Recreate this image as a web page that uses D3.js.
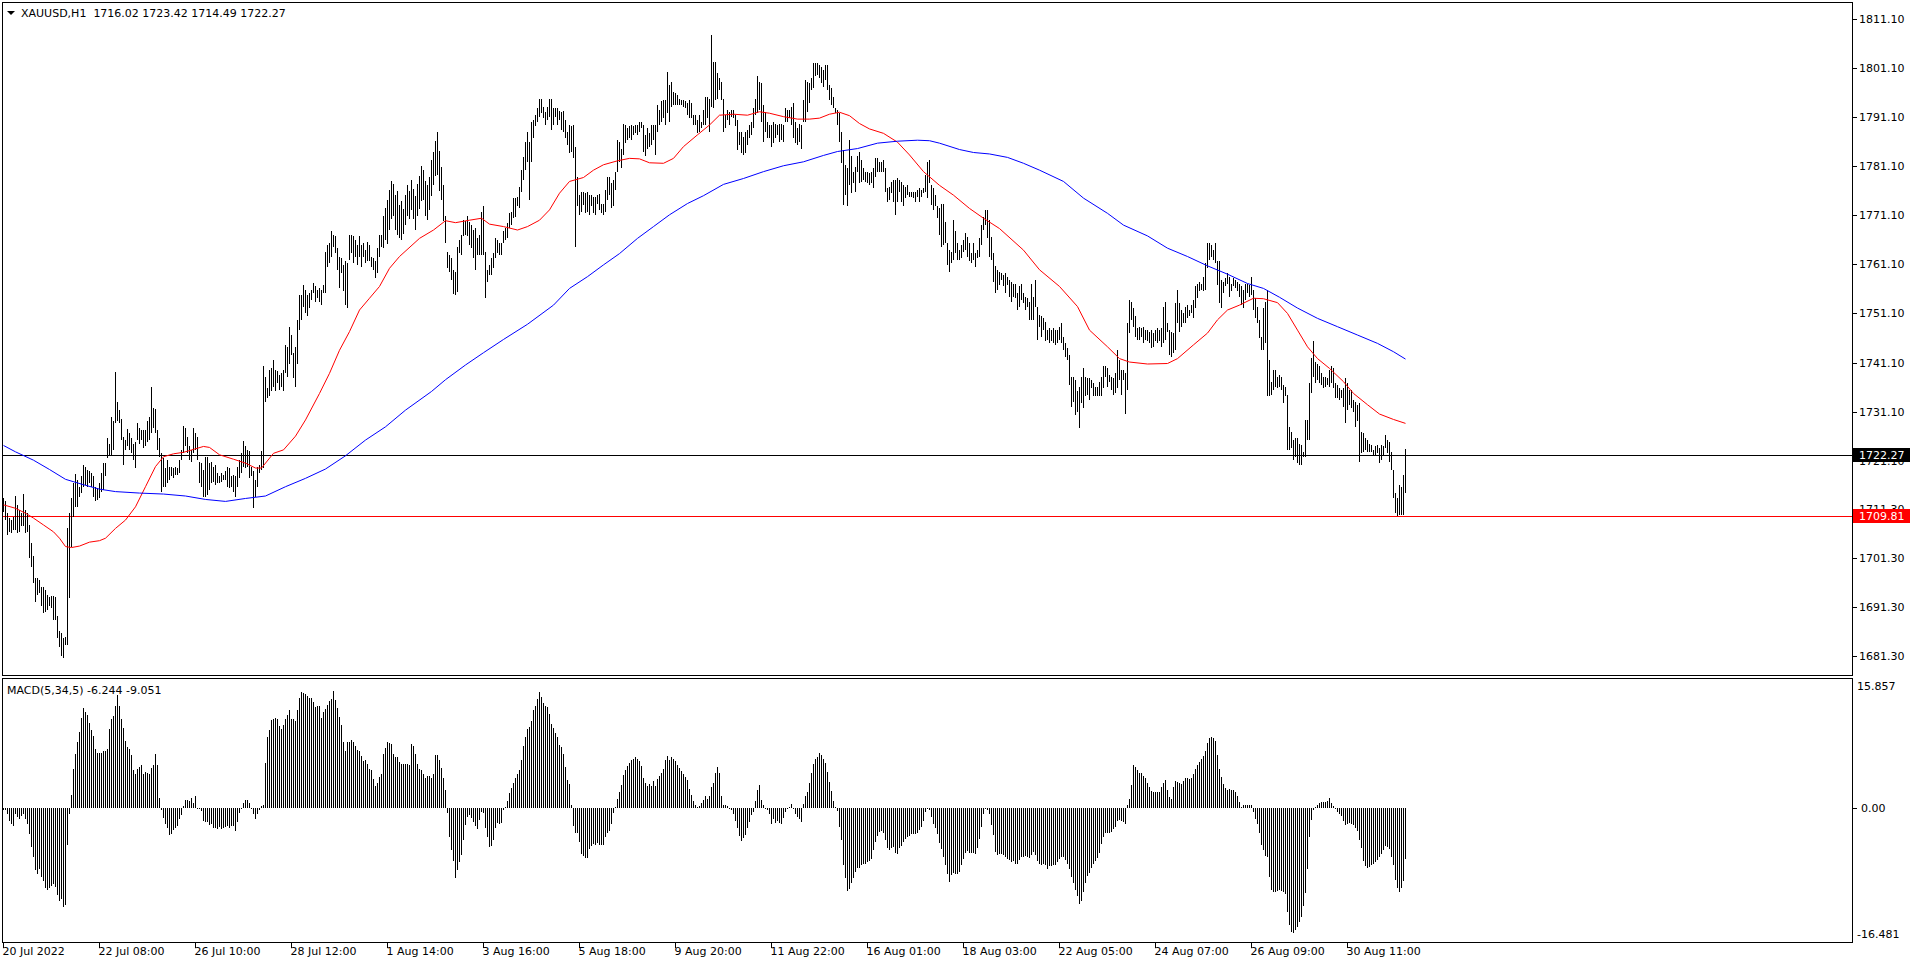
<!DOCTYPE html>
<html>
<head>
<meta charset="utf-8">
<script src="https://cdn.jsdelivr.net/npm/d3@7"></script>
<style>
html, body { margin: 0; padding: 0; background: #fff; }
svg { display: block; }
text { font-family: "DejaVu Sans", sans-serif; font-size: 11px; fill: #000; white-space: pre; }
</style>
</head>
<body>
<script>
// XAUUSD H1, 20 Jul 2022 -> 31 Aug 2022, one entry per hourly bar (702 bars)
const barHigh = [
1713.4,1712.8,1710.4,1709.4,1709.0,1709.7,1713.9,1712.1,1711.1,1710.4,
1714.3,1711.1,1710.4,1708.0,1704.3,1701.6,1697.1,1697.1,1696.8,1695.4,
1695.4,1694.8,1693.7,1693.4,1693.5,1693.5,1693.4,1689.5,1686.3,1685.9,
1684.9,1685.2,1707.3,1710.4,1713.4,1716.5,1718.4,1717.2,1715.8,1717.9,
1720.2,1719.9,1719.2,1718.9,1718.5,1717.9,1715.8,1715.5,1716.5,1718.5,
1720.6,1720.6,1725.7,1724.6,1730.1,1729.1,1739.1,1733.1,1731.4,1729.5,
1726.0,1725.3,1727.5,1726.7,1725.7,1724.6,1725.0,1728.7,1727.7,1727.4,
1727.4,1727.4,1729.1,1730.1,1736.2,1731.8,1731.6,1727.4,1725.7,1722.6,
1721.6,1719.6,1721.2,1719.9,1719.9,1719.6,1719.9,1719.6,1721.2,1723.3,
1728.2,1727.7,1726.0,1724.0,1723.3,1727.7,1726.7,1726.0,1720.9,1720.6,
1719.2,1721.9,1721.8,1720.6,1720.9,1719.9,1720.2,1718.5,1717.9,1718.5,
1718.2,1718.9,1719.9,1719.6,1717.9,1718.2,1717.9,1719.9,1721.2,1722.6,
1725.2,1724.0,1723.3,1723.0,1719.9,1718.9,1717.2,1719.9,1720.2,1723.0,
1740.3,1738.2,1735.9,1739.6,1739.9,1741.6,1739.6,1739.3,1738.6,1738.9,
1739.6,1744.7,1744.3,1748.4,1746.7,1743.0,1744.3,1749.8,1754.9,1754.9,
1756.9,1755.9,1754.9,1755.2,1755.9,1757.3,1756.6,1755.9,1756.2,1755.9,
1756.9,1763.7,1765.1,1765.4,1767.8,1767.1,1766.8,1764.4,1762.7,1762.3,
1761.0,1761.7,1761.3,1767.1,1767.1,1766.8,1766.1,1765.1,1766.8,1765.1,
1765.4,1764.0,1765.7,1765.1,1762.7,1762.3,1761.7,1764.4,1767.1,1767.1,
1771.0,1772.5,1774.2,1776.3,1778.1,1777.4,1775.2,1776.0,1773.3,1774.1,
1772.4,1775.2,1777.3,1776.1,1778.2,1776.5,1775.0,1777.4,1779.1,1781.2,
1780.3,1778.0,1777.2,1779.0,1782.3,1784.1,1786.2,1788.0,1784.3,1781.0,
1777.2,1771.0,1763.7,1763.0,1762.5,1760.0,1759.5,1764.7,1766.0,1767.0,
1770.2,1770.0,1771.0,1769.8,1769.1,1768.1,1768.5,1766.4,1767.1,1771.8,
1772.9,1763.7,1760.0,1761.0,1762.3,1763.4,1766.4,1766.1,1765.4,1765.4,
1767.8,1768.5,1769.5,1771.5,1771.8,1774.6,1774.6,1774.9,1776.9,1780.3,
1783.0,1786.1,1788.1,1786.0,1790.2,1790.5,1791.5,1792.9,1794.8,1794.8,
1793.2,1792.2,1793.2,1794.8,1794.8,1793.0,1792.9,1792.9,1792.4,1792.2,
1792.4,1790.5,1788.1,1789.5,1789.2,1789.5,1785.0,1779.0,1775.2,1775.9,
1775.9,1775.6,1775.9,1775.2,1775.2,1774.9,1774.9,1775.2,1775.4,1773.5,
1773.5,1776.3,1779.0,1779.0,1777.6,1778.3,1780.0,1786.4,1786.1,1784.7,
1789.8,1789.5,1788.8,1789.2,1789.5,1789.2,1789.5,1789.6,1790.2,1790.2,
1789.5,1787.5,1788.8,1787.8,1789.5,1789.5,1789.5,1793.6,1792.6,1794.3,
1794.6,1794.6,1800.4,1797.7,1798.3,1796.3,1796.0,1795.6,1794.9,1794.6,
1794.6,1794.3,1793.9,1794.6,1793.9,1791.5,1791.5,1790.5,1791.5,1790.2,
1792.6,1795.3,1795.3,1794.9,1807.8,1802.4,1802.4,1800.0,1799.0,1798.3,
1794.9,1791.5,1792.6,1792.2,1792.6,1792.6,1791.5,1790.5,1788.1,1788.1,
1787.1,1788.1,1788.5,1789.5,1790.2,1792.9,1794.9,1799.4,1798.3,1798.0,
1793.6,1792.2,1790.2,1789.5,1789.5,1790.2,1789.8,1789.5,1789.8,1789.8,
1789.5,1792.9,1792.6,1792.6,1793.2,1793.9,1790.2,1788.8,1789.8,1789.5,
1794.6,1798.7,1798.3,1798.0,1799.0,1802.1,1802.1,1802.1,1801.7,1801.4,
1800.7,1801.7,1801.7,1797.7,1797.0,1795.3,1792.9,1792.6,1791.9,1788.1,
1784.4,1781.4,1780.7,1786.4,1783.1,1780.0,1781.0,1783.1,1784.1,1782.4,
1780.7,1780.0,1780.0,1779.7,1780.0,1780.7,1782.7,1782.7,1782.0,1782.0,
1782.4,1780.7,1776.6,1776.9,1777.9,1778.3,1778.3,1778.6,1778.3,1777.9,
1777.3,1776.9,1777.3,1775.9,1775.9,1775.9,1775.9,1776.3,1776.6,1776.3,
1776.6,1779.3,1782.0,1782.4,1777.3,1776.6,1775.2,1772.9,1772.5,1773.5,
1773.5,1769.8,1765.4,1764.0,1763.7,1770.2,1767.8,1765.4,1764.0,1765.1,
1766.1,1767.4,1766.7,1765.4,1763.4,1765.4,1763.4,1764.0,1766.4,1769.1,
1770.8,1772.2,1772.2,1770.2,1766.7,1763.4,1760.7,1760.0,1759.6,1759.3,
1758.9,1759.3,1758.6,1757.9,1757.6,1757.2,1757.2,1755.2,1756.6,1757.2,
1755.2,1754.5,1754.2,1753.5,1757.2,1754.5,1757.9,1752.5,1750.8,1750.5,
1750.1,1749.4,1747.7,1748.1,1747.7,1748.1,1747.7,1747.7,1748.4,1749.1,
1746.4,1745.0,1744.0,1742.6,1738.2,1738.2,1737.6,1735.2,1736.2,1738.2,
1739.9,1738.2,1737.9,1737.9,1737.6,1736.9,1736.2,1736.2,1737.2,1738.2,
1740.3,1740.3,1739.9,1738.6,1738.2,1737.9,1738.9,1743.7,1741.6,1739.6,
1739.6,1738.9,1749.1,1753.8,1753.5,1752.2,1750.5,1748.1,1748.4,1748.1,
1748.4,1747.7,1747.7,1747.4,1747.7,1747.1,1747.7,1748.1,1747.7,1748.1,
1752.5,1753.5,1749.1,1747.7,1747.4,1747.1,1753.2,1755.9,1753.2,1751.8,
1751.1,1752.5,1752.8,1751.8,1752.8,1753.8,1756.6,1757.2,1757.6,1757.2,
1758.6,1761.3,1765.4,1765.4,1765.1,1764.0,1765.4,1761.7,1761.7,1757.9,
1757.6,1758.3,1759.3,1758.6,1757.2,1758.3,1757.9,1757.6,1757.2,1756.6,
1755.9,1757.2,1757.2,1756.9,1758.6,1755.9,1754.2,1752.5,1749.8,1746.4,
1752.2,1753.5,1755.9,1741.6,1737.2,1739.6,1739.6,1738.2,1738.6,1738.2,
1736.5,1736.2,1734.5,1728.0,1727.0,1725.3,1725.7,1725.7,1724.6,1724.3,
1722.9,1729.4,1729.4,1736.9,1742.0,1745.4,1741.3,1740.9,1740.3,1738.9,
1738.2,1738.2,1737.9,1739.6,1740.3,1739.9,1736.9,1736.5,1735.9,1735.5,
1735.9,1737.9,1736.9,1735.5,1735.5,1733.5,1733.1,1732.5,1732.8,1727.0,
1726.7,1725.7,1725.3,1724.6,1724.3,1723.3,1724.0,1724.3,1723.6,1724.3,
1724.0,1726.3,1725.3,1725.0,1722.9,1719.2,1714.5,1713.4,1716.1,1715.8,
1718.2,1723.42
]
const barLow = [
1710.7,1709.0,1706.0,1706.6,1706.3,1707.0,1707.0,1706.3,1706.6,1707.7,
1707.7,1706.3,1706.6,1701.2,1699.5,1696.1,1692.4,1693.7,1694.1,1691.4,
1690.0,1690.3,1690.7,1691.4,1691.0,1688.6,1688.6,1684.9,1683.2,1681.2,
1680.8,1683.6,1683.6,1693.1,1703.6,1709.7,1711.7,1711.7,1713.8,1714.5,
1715.8,1716.2,1715.8,1716.5,1715.8,1713.8,1712.8,1713.1,1713.4,1714.8,
1715.1,1717.9,1721.6,1722.3,1722.3,1723.3,1728.7,1729.1,1728.7,1725.3,
1720.2,1723.3,1724.0,1723.3,1722.6,1721.2,1719.6,1725.3,1724.6,1725.3,
1723.6,1724.0,1725.0,1725.3,1726.7,1727.7,1726.7,1723.3,1721.9,1714.8,
1715.8,1715.8,1716.5,1717.2,1717.9,1717.5,1718.2,1718.2,1718.5,1721.2,
1722.6,1724.0,1722.6,1721.2,1720.9,1722.6,1723.3,1721.2,1716.5,1715.8,
1713.8,1713.8,1714.1,1715.1,1716.5,1716.8,1716.2,1716.5,1716.5,1716.8,
1717.2,1717.2,1715.8,1715.5,1715.8,1714.8,1713.8,1715.8,1717.5,1718.5,
1719.9,1719.6,1719.9,1717.5,1717.9,1711.4,1713.8,1715.8,1718.5,1719.2,
1719.6,1733.1,1733.8,1734.2,1735.2,1736.2,1735.2,1736.9,1735.5,1736.2,
1735.2,1738.9,1738.2,1740.9,1742.6,1737.9,1736.2,1740.9,1747.7,1749.8,
1752.5,1751.1,1750.5,1752.2,1753.9,1755.2,1753.5,1754.2,1753.5,1752.8,
1755.2,1755.2,1760.6,1761.3,1762.7,1764.7,1763.4,1760.0,1756.2,1759.3,
1755.6,1752.8,1752.2,1762.0,1763.4,1761.3,1762.7,1761.0,1762.7,1760.6,
1762.7,1761.3,1761.7,1761.7,1760.6,1760.0,1758.3,1759.3,1762.7,1764.7,
1764.4,1766.0,1765.2,1768.1,1770.3,1771.0,1768.2,1767.1,1766.4,1766.0,
1767.2,1769.1,1771.0,1770.3,1772.1,1770.4,1768.2,1771.0,1772.3,1774.1,
1774.2,1771.0,1770.1,1772.2,1775.0,1777.3,1779.1,1779.4,1776.0,1774.2,
1770.0,1765.4,1760.3,1759.5,1758.0,1755.0,1754.9,1755.5,1763.4,1763.0,
1766.8,1767.0,1766.8,1765.0,1764.4,1762.3,1759.9,1763.0,1763.0,1763.0,
1763.0,1754.2,1757.6,1759.0,1759.0,1760.3,1762.3,1763.4,1763.0,1763.0,
1765.4,1766.1,1766.4,1768.5,1769.1,1770.5,1770.8,1772.9,1772.5,1775.9,
1778.3,1780.3,1782.0,1774.2,1782.0,1786.8,1789.2,1790.2,1791.2,1791.9,
1790.9,1789.5,1790.5,1791.2,1788.5,1789.5,1791.2,1789.5,1790.5,1788.5,
1788.1,1786.8,1785.4,1783.7,1784.1,1782.7,1764.7,1772.9,1771.2,1771.8,
1773.2,1771.5,1771.8,1771.2,1772.9,1771.5,1771.2,1773.5,1772.2,1771.5,
1771.2,1771.8,1774.2,1775.2,1772.5,1772.9,1776.3,1780.0,1782.0,1780.7,
1783.4,1785.8,1786.4,1786.8,1786.4,1787.5,1787.8,1787.5,1788.1,1788.8,
1784.1,1783.1,1784.7,1785.1,1785.4,1786.4,1783.4,1788.1,1789.5,1790.2,
1790.9,1789.5,1791.9,1790.2,1793.2,1793.6,1793.6,1793.6,1793.6,1793.6,
1793.2,1792.9,1791.5,1790.9,1790.9,1789.5,1789.5,1787.8,1788.1,1788.8,
1789.5,1789.5,1790.9,1788.1,1793.2,1792.9,1794.6,1794.9,1796.6,1794.6,
1788.1,1788.8,1790.5,1789.5,1791.2,1790.9,1789.2,1784.4,1785.4,1783.7,
1783.4,1783.7,1785.4,1786.8,1787.5,1788.8,1791.5,1791.9,1792.6,1790.2,
1786.1,1788.1,1786.8,1786.8,1785.1,1785.8,1786.8,1787.5,1786.1,1786.4,
1786.1,1790.2,1790.2,1790.9,1789.5,1786.8,1785.8,1785.4,1786.1,1784.7,
1790.2,1790.2,1792.2,1793.9,1796.6,1797.0,1799.4,1799.7,1799.0,1798.0,
1797.3,1798.7,1796.6,1794.6,1793.6,1792.9,1791.9,1789.5,1786.1,1781.7,
1773.2,1775.2,1772.9,1777.3,1775.6,1777.6,1775.9,1780.0,1777.6,1777.9,
1778.3,1777.9,1777.6,1777.3,1777.6,1776.6,1779.0,1780.0,1780.0,1780.0,
1780.0,1775.9,1773.9,1774.2,1775.6,1773.9,1771.2,1773.9,1775.9,1773.9,
1772.9,1774.6,1775.2,1774.9,1774.9,1774.6,1773.9,1774.9,1773.9,1774.9,
1775.6,1775.9,1774.6,1777.6,1773.2,1772.2,1772.9,1770.5,1767.1,1764.7,
1765.1,1765.4,1761.0,1759.6,1761.3,1762.0,1763.4,1762.0,1762.0,1762.3,
1763.7,1764.0,1762.7,1761.7,1761.3,1762.0,1760.6,1762.3,1762.7,1765.1,
1768.1,1769.1,1766.4,1762.7,1762.0,1757.6,1755.2,1755.9,1756.9,1757.9,
1756.6,1755.2,1756.9,1754.5,1753.5,1754.5,1754.2,1751.8,1752.5,1753.9,
1753.2,1751.8,1752.5,1749.8,1749.8,1749.8,1752.5,1745.7,1748.4,1746.4,
1747.7,1745.4,1745.7,1745.0,1745.4,1745.0,1744.7,1745.0,1745.7,1745.0,
1743.7,1742.3,1741.6,1736.5,1732.1,1733.1,1730.4,1731.1,1727.7,1732.8,
1731.8,1734.2,1734.5,1733.5,1735.9,1734.2,1734.2,1734.2,1734.2,1734.2,
1735.9,1738.2,1736.2,1737.2,1735.5,1734.5,1734.8,1735.9,1737.6,1734.5,
1737.6,1730.7,1735.5,1747.1,1749.8,1748.4,1746.4,1745.7,1745.7,1746.4,
1745.0,1745.7,1745.4,1745.0,1744.0,1744.3,1745.4,1745.0,1745.4,1744.3,
1745.0,1745.7,1747.4,1742.6,1742.3,1743.0,1743.7,1749.1,1747.4,1748.4,
1749.1,1749.1,1750.1,1750.5,1751.1,1750.1,1752.2,1754.2,1755.6,1755.9,
1755.6,1755.9,1760.3,1762.0,1762.7,1762.0,1761.3,1756.9,1753.2,1752.2,
1755.2,1756.6,1757.2,1754.5,1755.6,1756.6,1756.2,1755.6,1754.5,1752.8,
1752.2,1753.9,1755.2,1754.5,1754.9,1751.8,1750.1,1749.1,1746.1,1743.7,
1743.7,1745.0,1734.2,1734.2,1734.5,1735.5,1736.2,1735.9,1736.2,1735.5,
1732.8,1734.2,1723.3,1723.3,1723.6,1721.2,1721.9,1720.6,1720.2,1720.2,
1721.9,1721.9,1725.3,1725.3,1734.8,1738.2,1736.9,1737.6,1736.9,1736.5,
1735.9,1736.2,1736.5,1736.2,1736.9,1735.9,1733.8,1733.8,1733.5,1733.8,
1732.1,1728.7,1731.4,1732.5,1731.8,1731.1,1728.0,1729.1,1720.9,1722.6,
1722.9,1723.3,1722.9,1722.9,1722.9,1722.3,1722.3,1722.6,1720.6,1721.2,
1722.3,1723.6,1722.6,1720.9,1719.2,1713.4,1710.4,1709.81,1710.0,1710.0,
1710.0,1714.49
]
// MACD(5,34,5) main histogram, one value per bar
const macdHist = [
-0.2,-0.3,-0.7,-1.6,-1.9,-2.2,-0.8,-1.1,-1.4,-1.0,
-0.7,-1.4,-1.9,-3.2,-4.8,-6.0,-7.6,-8.0,-7.4,-8.4,
-8.9,-9.8,-10.0,-9.8,-9.5,-9.3,-9.7,-10.6,-11.4,-11.1,
-12.1,-11.8,-4.5,-0.8,1.6,4.7,6.6,8.0,9.3,11.0,
12.2,11.7,11.3,10.4,9.5,8.8,7.2,6.7,6.7,6.7,
6.9,6.9,7.2,9.6,10.8,11.2,12.4,13.8,12.4,10.9,
9.8,8.2,7.4,7.2,6.4,4.6,4.1,4.7,5.0,5.2,
4.1,4.4,4.3,4.2,4.9,5.3,6.6,5.2,1.2,-0.2,
-1.2,-2.0,-2.5,-3.3,-3.2,-2.7,-2.4,-2.2,-1.3,-0.9,
0.2,1.0,1.0,0.8,1.2,0.6,1.4,-0.1,-0.1,-0.4,
-1.6,-1.7,-1.7,-2.1,-1.9,-2.4,-2.4,-2.6,-2.3,-2.6,
-2.4,-2.3,-2.2,-2.4,-2.2,-2.2,-2.8,-1.7,-0.6,-0.1,
0.6,1.0,1.0,0.6,-0.1,-0.7,-1.3,-0.8,-0.3,0.2,
0.4,5.5,8.7,9.5,10.7,10.9,11.0,10.8,10.0,9.6,
10.1,10.9,11.3,11.9,10.9,10.8,10.6,12.0,13.4,14.1,
14.0,13.9,13.6,13.4,13.4,12.9,12.3,12.4,12.4,11.0,
11.7,12.1,12.6,13.0,13.3,14.3,13.2,12.2,11.1,10.1,
8.1,7.0,8.1,8.1,8.3,8.1,7.6,7.1,7.0,6.3,
5.7,5.8,5.4,4.8,4.6,3.5,2.7,3.0,3.8,4.1,
6.6,7.3,8.1,7.9,7.8,6.6,6.2,6.2,5.6,5.4,
5.4,5.4,5.4,5.2,7.8,7.6,6.6,5.4,4.8,4.6,
4.1,3.7,3.9,3.9,3.6,4.2,6.4,6.4,5.8,4.9,
3.7,2.2,-0.6,-3.5,-5.1,-6.5,-8.5,-7.6,-6.6,-5.8,
-3.9,-2.1,-1.1,-0.9,-1.2,-1.7,-2.2,-2.6,-1.5,-0.5,
-0.6,-2.4,-3.6,-4.8,-4.7,-3.9,-2.5,-1.8,-2.0,-1.8,
-0.3,0.1,0.9,1.8,2.4,3.0,3.6,4.1,4.6,5.8,
7.5,8.7,9.6,9.9,10.6,11.9,12.4,13.3,14.1,13.5,
12.8,12.4,12.3,11.5,10.3,9.7,9.1,8.6,7.7,7.4,
6.6,5.0,3.4,2.9,0.4,-2.2,-3.0,-3.0,-4.1,-5.6,
-5.9,-6.1,-6.1,-5.0,-4.7,-4.4,-4.5,-4.3,-4.5,-4.5,
-4.5,-3.5,-3.1,-2.8,-1.9,-0.6,0.1,1.1,1.9,2.8,
4.0,4.6,5.1,5.5,5.8,6.0,6.2,6.0,5.7,5.1,
3.7,3.1,2.7,2.9,2.7,3.3,2.7,3.5,3.9,4.3,
4.8,5.8,6.3,5.8,6.2,6.0,5.7,5.2,4.9,4.5,
4.2,3.8,3.4,2.3,1.6,0.9,0.3,0.1,0.2,0.6,
1.0,1.4,1.1,1.5,2.5,3.1,4.3,5.0,4.3,1.5,
0.4,0.3,0.2,0.0,-0.2,-0.7,-1.6,-2.5,-3.4,-4.0,
-3.7,-3.3,-2.5,-1.7,-0.9,-0.5,0.8,2.2,2.8,1.0,
0.3,-0.1,-0.3,-0.8,-1.9,-1.4,-1.8,-1.6,-1.8,-1.9,
-1.2,-0.5,-0.1,0.1,0.5,-0.1,-0.7,-1.1,-1.3,-1.7,
0.5,1.4,2.0,3.0,4.3,5.4,6.0,6.2,6.7,6.5,
6.0,5.5,4.4,3.2,2.1,0.8,0.1,-0.4,-2.3,-3.9,
-7.0,-8.6,-10.1,-9.9,-9.2,-8.6,-7.8,-7.3,-7.3,-7.0,
-6.8,-6.8,-6.6,-6.5,-6.2,-5.1,-4.1,-3.4,-2.9,-2.8,
-3.0,-3.9,-4.9,-5.1,-4.9,-4.8,-5.5,-5.6,-4.9,-4.6,
-4.2,-3.8,-3.5,-3.4,-3.2,-3.2,-3.2,-3.0,-2.7,-2.3,
-1.6,-0.5,-0.1,-0.2,-1.1,-2.0,-2.5,-3.2,-4.3,-5.0,
-6.0,-7.0,-8.0,-9.0,-8.2,-7.9,-8.1,-8.0,-7.8,-7.0,
-6.2,-5.5,-5.2,-5.5,-5.5,-5.5,-5.6,-4.9,-3.8,-2.3,
-0.8,-0.1,-0.3,-0.7,-2.1,-3.3,-5.4,-5.8,-5.6,-5.6,
-5.8,-6.0,-6.2,-6.4,-6.6,-6.5,-6.8,-6.8,-6.4,-6.0,
-6.0,-5.9,-6.0,-6.1,-5.7,-5.4,-5.8,-6.5,-6.8,-7.0,
-6.8,-7.0,-7.4,-7.1,-7.1,-7.0,-7.0,-6.6,-6.2,-6.0,
-6.0,-6.4,-6.8,-7.4,-8.4,-9.2,-10.0,-10.8,-11.7,-11.4,
-10.3,-9.1,-8.3,-7.9,-7.3,-6.9,-6.5,-6.1,-5.5,-4.4,
-3.6,-3.1,-3.0,-3.0,-2.9,-2.6,-2.3,-1.6,-1.5,-1.6,
-1.7,-2.0,0.3,1.1,2.8,5.3,5.0,4.6,4.3,4.3,
3.9,3.6,3.0,2.5,2.1,2.0,2.0,2.0,1.9,2.5,
3.0,3.4,2.2,1.3,1.1,2.5,3.3,3.2,3.1,2.9,
3.3,3.7,3.7,3.5,3.7,4.1,4.8,5.2,5.6,6.0,
6.3,7.0,7.9,8.5,8.6,8.5,8.2,6.5,4.8,3.8,
2.9,2.4,2.2,2.3,2.2,2.2,1.9,1.4,0.7,0.1,
0.4,0.4,0.4,0.3,0.3,-0.5,-1.3,-2.0,-3.0,-4.5,
-5.1,-5.9,-6.0,-8.4,-10.0,-10.2,-10.2,-10.1,-10.0,-10.1,
-10.2,-10.5,-12.7,-14.3,-15.1,-15.2,-14.9,-14.5,-13.9,-13.3,
-12.0,-10.4,-7.4,-3.5,-1.5,-0.3,0.1,0.3,0.6,0.7,
0.7,0.7,0.9,1.2,0.6,0.2,-0.1,-0.5,-0.7,-1.0,
-1.6,-2.1,-1.9,-1.8,-1.9,-2.1,-2.5,-2.8,-3.9,-4.9,
-6.5,-7.1,-7.3,-7.2,-7.0,-6.8,-6.6,-6.4,-6.0,-5.6,
-5.1,-4.7,-4.8,-5.0,-6.0,-7.0,-8.8,-9.8,-10.2,-9.8,
-8.9,-6.244
]
// moving averages as [bar, price]
const redMa = [
[0,1712.1],[6,1711.4],[11,1710.4],[15,1709.4],[20,1708.0],[25,1706.6],[28,1705.3],[31,1703.6],[34,1703.4],[38,1703.7],
[43,1704.5],[48,1704.8],[51,1705.3],[56,1707.3],[61,1709.0],[66,1711.7],[71,1715.8],[76,1719.9],[80,1721.9],[85,1722.5],
[90,1722.8],[95,1723.4],[100,1724.0],[103,1723.8],[108,1722.3],[115,1721.4],[121,1720.6],[126,1719.6],[129,1719.6],[135,1722.6],
[140,1723.3],[146,1726.1],[151,1729.4],[158,1734.8],[163,1738.9],[168,1743.6],[173,1747.4],[178,1751.8],[183,1754.2],[188,1756.6],
[193,1760.3],[198,1762.7],[208,1766.4],[215,1768.1],[221,1770.0],[226,1769.6],[233,1770.1],[239,1770.5],[243,1769.3],[250,1768.8],
[257,1768.1],[262,1768.8],[268,1770.1],[273,1772.2],[278,1775.6],[283,1778.0],[290,1778.8],[295,1780.3],[300,1781.4],[307,1782.2],
[313,1782.7],[318,1782.6],[323,1781.8],[330,1781.7],[335,1782.7],[340,1785.1],[347,1787.5],[353,1789.5],[358,1791.5],[365,1791.7],
[372,1791.5],[378,1792.2],[383,1791.9],[390,1791.2],[397,1790.7],[403,1790.7],[408,1790.9],[413,1791.7],[418,1792.1],[423,1791.4],
[428,1789.8],[433,1788.7],[440,1787.8],[447,1786.0],[453,1783.4],[460,1780.0],[468,1777.2],[475,1775.2],[483,1772.5],[490,1770.5],
[498,1768.4],[510,1764.0],[518,1760.0],[528,1756.6],[537,1752.5],[543,1747.7],[552,1744.3],[558,1741.9],[563,1741.2],[572,1740.8],
[582,1740.9],[587,1741.9],[595,1744.7],[602,1747.1],[607,1749.8],[612,1751.8],[618,1752.8],[625,1754.2],[630,1754.1],[637,1753.3],
[642,1751.1],[647,1747.7],[652,1744.3],[657,1741.9],[663,1739.9],[670,1737.2],[675,1734.8],[682,1732.5],[688,1730.6],[695,1729.5],
[701,1728.7]
]
const blueMa = [
[0,1724.2],[6,1722.9],[15,1721.2],[23,1719.3],[31,1717.3],[40,1716.2],[48,1715.3],[56,1714.8],[68,1714.5],[80,1714.3],
[91,1713.9],[101,1713.2],[111,1712.8],[121,1713.4],[131,1713.9],[141,1715.8],[151,1717.5],[161,1719.4],[171,1722.1],[181,1725.3],
[191,1728.0],[201,1731.4],[214,1735.2],[221,1737.6],[231,1740.6],[240,1743.1],[250,1745.8],[262,1748.9],[275,1752.8],[283,1756.2],
[292,1758.6],[300,1761.0],[308,1763.3],[317,1766.4],[325,1768.8],[333,1771.2],[342,1773.5],[350,1775.1],[360,1777.4],[370,1778.6],
[380,1780.0],[390,1781.2],[400,1782.0],[410,1783.3],[417,1784.1],[427,1784.7],[437,1785.8],[447,1786.2],[457,1786.4],[463,1786.3],
[468,1785.8],[478,1784.5],[485,1783.9],[493,1783.6],[502,1782.9],[510,1781.7],[518,1780.3],[530,1778.0],[540,1774.6],[552,1771.5],
[560,1769.1],[572,1766.9],[582,1764.4],[592,1762.7],[602,1760.8],[612,1759.1],[622,1757.2],[630,1756.2],[638,1754.4],[647,1752.2],
[657,1750.1],[667,1748.4],[677,1746.7],[687,1745.0],[695,1743.3],[701,1741.8]
]
const priceTicks = [1811.1,1801.1,1791.1,1781.1,1771.1,1761.1,1751.1,1741.1,1731.1,1721.1,1711.3,1701.3,1691.3,1681.3]
const timeLabels = ['20 Jul 2022','22 Jul 08:00','26 Jul 10:00','28 Jul 12:00','1 Aug 14:00','3 Aug 16:00','5 Aug 18:00',
	'9 Aug 20:00','11 Aug 22:00','16 Aug 01:00','18 Aug 03:00','22 Aug 05:00','24 Aug 07:00','26 Aug 09:00','30 Aug 11:00']
const timeLabelBar = [0,48,96,144,192,240,288,336,384,432,480,528,576,624,672]
const lastBar = {open: 1716.02, high: 1723.42, low: 1714.49, close: 1722.27}
const supportLevel = 1709.81
const macdMain = -6.244, macdSignal = -9.051
const macdRange = [-16.481, 15.857]

const W = 1916, H = 962
const svg = d3.select('body').append('svg').attr('width', W).attr('height', H)

const x = d3.scaleLinear().domain([0, 701]).range([3.5, 1405.5])
const y = d3.scaleLinear().domain([1681.3, 1811.1]).range([656, 19])
const ym = d3.scaleLinear().domain(macdRange).range([943, 678])

const crisp = sel => sel.attr('shape-rendering', 'crispEdges')

// panel frames
svg.append('rect').attr('x', 2.5).attr('y', 2.5).attr('width', 1850).attr('height', 672.5)
	.attr('fill', 'none').attr('stroke', '#000').call(crisp)
svg.append('rect').attr('x', 2.5).attr('y', 678.5).attr('width', 1850).attr('height', 264)
	.attr('fill', 'none').attr('stroke', '#000').call(crisp)

svg.append('clipPath').attr('id', 'mainClip').append('rect')
	.attr('x', 3).attr('y', 3).attr('width', 1849).attr('height', 672)

const main = svg.append('g').attr('clip-path', 'url(#mainClip)')

// horizontal levels
main.append('line').attr('x1', 3).attr('x2', 1852)
	.attr('y1', Math.round(y(lastBar.close)) + 0.5).attr('y2', Math.round(y(lastBar.close)) + 0.5)
	.attr('stroke', '#000').call(crisp)
main.append('line').attr('x1', 3).attr('x2', 1852)
	.attr('y1', Math.round(y(supportLevel)) + 0.5).attr('y2', Math.round(y(supportLevel)) + 0.5)
	.attr('stroke', '#ff0000').call(crisp)

// OHLC bars (high-low lines)
main.append('g').selectAll('line').data(barHigh).join('line')
	.attr('x1', (d, i) => x(i)).attr('x2', (d, i) => x(i))
	.attr('y1', d => Math.round(y(d)))
	.attr('y2', (d, i) => Math.max(Math.round(y(barLow[i])), Math.round(y(d)) + 1))
	.attr('stroke', '#000').attr('stroke-width', 1).call(crisp)

// moving averages
const maLine = d3.line().x(d => x(d[0])).y(d => y(d[1]))
main.append('path').datum(redMa).attr('d', maLine)
	.attr('fill', 'none').attr('stroke', '#ff0000').attr('stroke-width', 1)
main.append('path').datum(blueMa).attr('d', maLine)
	.attr('fill', 'none').attr('stroke', '#0000ff').attr('stroke-width', 1)

// MACD histogram
const zeroY = Math.round(ym(0))
svg.append('g').selectAll('line').data(macdHist).join('line')
	.attr('x1', (d, i) => x(i)).attr('x2', (d, i) => x(i))
	.attr('y1', zeroY)
	.attr('y2', d => Math.round(ym(d)) === zeroY ? zeroY + 1 : Math.round(ym(d)))
	.attr('stroke', '#000').attr('stroke-width', 1).call(crisp)

// header texts
svg.append('path').attr('d', 'M7,11 L15,11 L11,15 Z').attr('fill', '#000')
svg.append('text').attr('x', 21).attr('y', 17)
	.text(`XAUUSD,H1  ${lastBar.open.toFixed(2)} ${lastBar.high.toFixed(2)} ${lastBar.low.toFixed(2)} ${lastBar.close.toFixed(2)}`)
svg.append('text').attr('x', 7).attr('y', 694)
	.text(`MACD(5,34,5) ${macdMain.toFixed(3)} ${macdSignal.toFixed(3)}`)

// price axis
const pAxis = svg.append('g')
pAxis.selectAll('line').data(priceTicks).join('line')
	.attr('x1', 1852).attr('x2', 1857)
	.attr('y1', d => Math.round(y(d)) + 0.5).attr('y2', d => Math.round(y(d)) + 0.5)
	.attr('stroke', '#000').call(crisp)
pAxis.selectAll('text').data(priceTicks).join('text')
	.attr('x', 1859).attr('y', d => y(d) + 4)
	.text(d => d.toFixed(2))

// current price and level boxes
const boxes = [
	{v: lastBar.close, fill: '#000000'},
	{v: supportLevel, fill: '#ff0000'}
]
const bx = svg.append('g').selectAll('g').data(boxes).join('g')
bx.append('rect').attr('x', 1853).attr('width', 57).attr('height', 14)
	.attr('y', d => Math.round(y(d.v)) - 7).attr('fill', d => d.fill)
bx.append('text').attr('x', 1859).attr('y', d => Math.round(y(d.v)) + 4)
	.style('fill', '#fff').text(d => d.v.toFixed(2))

// MACD axis labels
svg.append('text').attr('x', 1857).attr('y', ym(macdRange[1]) + 12).text(macdRange[1].toFixed(3))
svg.append('line').attr('x1', 1852).attr('x2', 1857).attr('y1', zeroY + 0.5).attr('y2', zeroY + 0.5)
	.attr('stroke', '#000').call(crisp)
svg.append('text').attr('x', 1861).attr('y', zeroY + 4).text('0.00')
svg.append('text').attr('x', 1857).attr('y', ym(macdRange[0]) - 5).text(macdRange[0].toFixed(3))

// time axis
const tAxis = svg.append('g')
tAxis.selectAll('line').data(timeLabelBar).join('line')
	.attr('x1', d => x(d)).attr('x2', d => x(d))
	.attr('y1', 943).attr('y2', 948)
	.attr('stroke', '#000').call(crisp)
tAxis.selectAll('text').data(timeLabels).join('text')
	.attr('x', (d, i) => x(timeLabelBar[i]) - 1).attr('y', 955)
	.text(d => d)
</script>
</body>
</html>
